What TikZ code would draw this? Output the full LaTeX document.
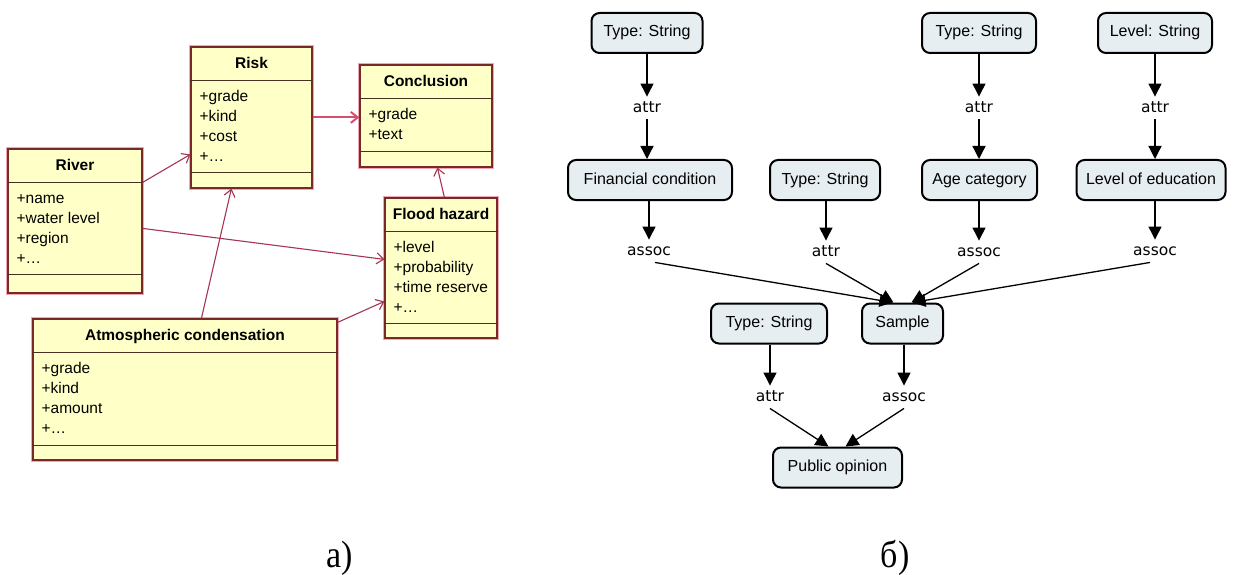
\documentclass[tikz,border=0pt]{standalone}
\usepackage{fontspec}
\setmainfont{Liberation Sans}
\newfontfamily\lblfont{DejaVu Sans}
\newfontfamily\capfont{Liberation Serif}
\usetikzlibrary{arrows.meta}

\definecolor{umlfill}{HTML}{FFFFC8}
\definecolor{umlborder}{HTML}{7A2828}
\definecolor{umlglow}{HTML}{EBA9B2}
\definecolor{umlline}{HTML}{4A3020}
\definecolor{assocred}{HTML}{A53552}
\definecolor{assocpink}{HTML}{D4506E}
\definecolor{nodefill}{HTML}{E6EEF2}

% one UML class: name, centre, width, height, title, attributes, offset of the lower separator
\newcommand\umlclass[7]{%
  \node[umlbox, minimum width=#3, minimum height=#4] (#1) at (#2) {};
  \draw[umlsep] ([yshift=-34pt]#1.north west) -- ([yshift=-34pt]#1.north east);
  \draw[umlsep] ([yshift=-#7]#1.north west) -- ([yshift=-#7]#1.north east);
  \node[umltitle] (#1-title) at ([yshift=-22.5pt]#1.north) {#5};
  \foreach \a [count=\i] in {#6}
    \node[umlattr] (#1-a\i) at ([xshift=9pt,yshift={-55pt-20pt*(\i-1)}]#1.north west) {\a};
}

\begin{document}
\begin{tikzpicture}[x=1pt,y=-1pt,
  umlbox/.style={draw=umlborder, line width=1.2pt, fill=umlfill, inner sep=0pt,
    preaction={draw=umlglow, line width=3.2pt}},
  umlsep/.style={draw=umlline, line width=1.2pt},
  umltitle/.style={font=\fontsize{15.5}{18}\selectfont\bfseries, inner sep=0pt, anchor=base},
  umlattr/.style={font=\fontsize{15.5}{18}\selectfont, inner sep=0pt, anchor=base west},
  umlarrow/.style={draw=assocred, line width=1.1pt, -{Straight Barb[length=7pt,width=11pt]}},
  concept/.style={draw=black, line width=2pt, fill=nodefill, rounded corners=8pt,
    minimum height=40pt, inner sep=0pt, text height=11.5pt, text depth=3.5pt,
    font=\fontsize{16}{19}\selectfont},
  rel/.style={font=\lblfont\fontsize{15.5}{18}\selectfont, inner sep=4pt,
    text height=11.5pt, text depth=3pt},
  link/.style={draw=black, line width=1.3pt, -{Triangle[width=13pt,length=13pt]}},
  caption/.style={font=\capfont\fontsize{34}{40}\selectfont, inner sep=0pt, anchor=base}
]
\useasboundingbox[fill=white] (0,0) rectangle (1245,575);

% ---------- a) class diagram ----------
\umlclass{risk}{251.5,117.5}{121pt}{141pt}{Risk}{+grade,+kind,+cost,+\ldots}{126pt}
\umlclass{conclusion}{426,116}{132pt}{102pt}{Conclusion}{+grade,+text}{87pt}
\umlclass{river}{75,221}{134pt}{144pt}{River}{+name,+water level,+region,+\ldots}{126pt}
\umlclass{flood}{441,268}{112pt}{140pt}{Flood hazard}{+level,+probability,+time reserve,+\ldots}{126pt}
\umlclass{atmos}{185,389.5}{304pt}{141pt}{Atmospheric condensation}{+grade,+kind,+amount,+\ldots}{127pt}

\draw[umlarrow, draw=assocpink, line width=2pt] ([yshift=-71pt]risk.north east) -- ([yshift=-53pt]conclusion.north west);
\draw[umlarrow] ([yshift=-34pt]river.north east) -- ([yshift=-108pt]risk.north west);
\draw[umlarrow] ([yshift=-80pt]river.north east) -- ([yshift=-62pt]flood.north west);
\draw[umlarrow] ([xshift=169pt]atmos.north west) -- ([xshift=41pt]risk.south west);
\draw[umlarrow] ([yshift=-4pt]atmos.north east) -- ([yshift=-104pt]flood.north west);
\draw[umlarrow] ([xshift=60pt]flood.north west) -- ([xshift=78pt]conclusion.south west);

% ---------- b) semantic network ----------
\node[concept, minimum width=111pt] (ts1) at (647,33) {Type: String};
\node[concept, minimum width=114pt] (ts3) at (979,33) {Type: String};
\node[concept, minimum width=114pt] (lvl) at (1155,33) {Level: String};

\node[rel] (r1) at (647,108) {attr};
\node[rel] (r3) at (979,108) {attr};
\node[rel] (r4) at (1155,108) {attr};

\node[concept, minimum width=164pt] (fin) at (650,180) {Financial condition};
\node[concept, minimum width=110pt] (ts2) at (825,180) {Type: String};
\node[concept, minimum width=115pt] (age) at (979.5,180) {Age category};
\node[concept, minimum width=149pt] (edu) at (1151,180) {Level of education};

\node[rel] (q1) at (649,251) {assoc};
\node[rel] (q2) at (826,252) {attr};
\node[rel] (q3) at (979,252) {assoc};
\node[rel] (q4) at (1155,251) {assoc};

\node[concept, minimum width=116pt] (ts4) at (769,323.5) {Type: String};
\node[concept, minimum width=81pt] (sample) at (902.5,323.5) {Sample};

\node[rel] (p1) at (770,397) {attr};
\node[rel] (p2) at (904,397) {assoc};

\node[concept, minimum width=129pt] (pub) at (837.5,467.5) {Public opinion};

\draw[link] (ts1) -- (r1);
\draw[link] (r1.south) -- (r1.south |- fin.north);
\draw[link] (ts3) -- (r3);
\draw[link] (r3.south) -- (r3.south |- age.north);
\draw[link] (lvl) -- (r4);
\draw[link] (r4.south) -- (r4.south |- edu.north);

\draw[link] (fin.south -| q1) -- (q1);
\draw[link] (ts2.south -| q2) -- (q2);
\draw[link] (age.south -| q3) -- (q3);
\draw[link] (edu.south -| q4) -- (q4);

\draw[link] ([xshift=6pt]q1.south) -- ([xshift=-10pt]sample.north);
\draw[link] (q2.south) -- ([xshift=-9pt]sample.north);
\draw[link] (q3.south) -- ([xshift=9pt]sample.north);
\draw[link] ([xshift=-5pt]q4.south) -- ([xshift=10pt]sample.north);

\draw[link] (ts4.south -| p1) -- (p1);
\draw[link] (sample.south -| p2) -- (p2);
\draw[link] (p1.south) -- ([xshift=-9pt]pub.north);
\draw[link] (p2.south) -- ([xshift=8pt]pub.north);

% ---------- captions ----------
\node[caption] (capa) at (340,567) {\scalebox{1}[1.12]{а)}};
\node[caption] (capb) at (895,567) {\scalebox{1}[1.12]{б)}};
\end{tikzpicture}
\end{document}
